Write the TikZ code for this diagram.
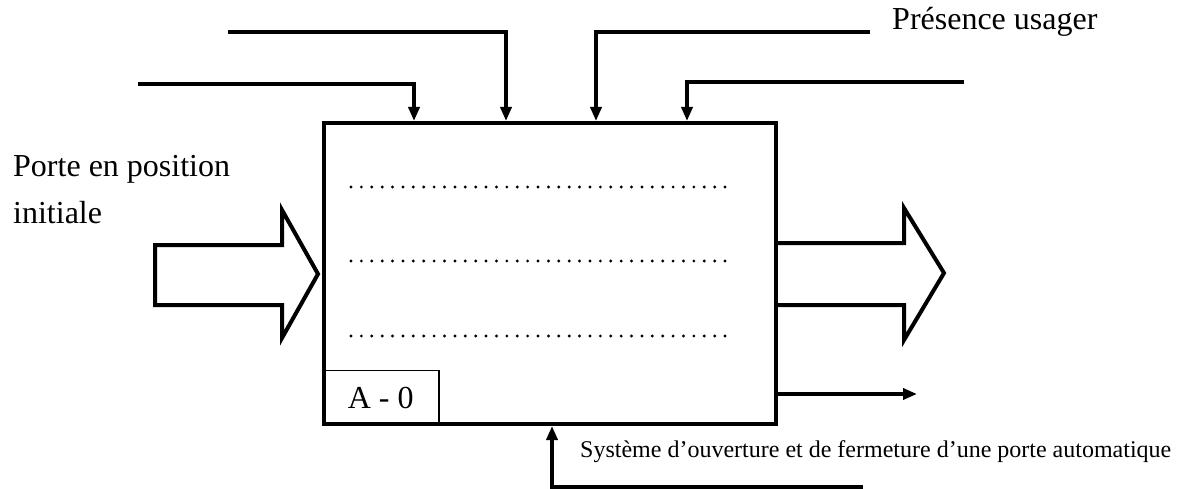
\documentclass[tikz,border=0pt]{standalone}
\usepackage{fontspec}
\setmainfont{Liberation Serif}
\usetikzlibrary{arrows.meta}

\begin{document}
\begin{tikzpicture}[x=1pt,y=-1pt,
  fat/.style={line width=4pt},
  tip/.style={-{Triangle[length=14pt,width=11pt]}},
  big/.style={font=\fontsize{32}{38}\selectfont, inner sep=0pt},
  small/.style={font=\fontsize{24}{28}\selectfont, inner sep=0pt}]
 \useasboundingbox (0,0) rectangle (1182,489);

 % the function box
 \node [draw, fat, minimum width=452pt, minimum height=301pt, inner sep=0pt] (box) at (550,273.5) {};
 \node [draw, line width=1.5pt, anchor=south west, minimum width=116pt, minimum height=55pt, big] (a0) at (box.south west) {A - 0};

 \foreach \y in {187,261,336}
  \foreach \i in {0,...,36}
   \fill (351+\i*10.39,\y) circle (1.6pt);

 % controls on top
 \coordinate (c1) at (138,84);
 \coordinate (c2) at (228,32);
 \coordinate (c3) at (870,32);
 \coordinate (c4) at (964,82);
 \coordinate (t1) at (414,121);
 \coordinate (t2) at (506,121);
 \coordinate (t3) at (596,121);
 \coordinate (t4) at (687,121);
 \draw [fat, tip] (c1) -| (t1);
 \draw [fat, tip] (c2) -| (t2);
 \draw [fat, tip] (c3) -| (t3);
 \draw [fat, tip] (c4) -| (t4);
 \node [big, anchor=base west] (pres) at (892,30) {Présence usager};

 % input
 \draw [fat] (155,245) -- (282,245) -- (282,210) -- (318,274) -- (282,338) -- (282,305) -- (155,305) -- cycle;
 \node [big, anchor=base west] (porte) at (13,177) {Porte en position};
 \node [big, anchor=base west] (init) at (13,223) {initiale};

 % outputs
 \draw [fat] (box.east |- 0,243) -- (904,243) -- (904,208) -- (944,273) -- (904,340) -- (904,305) -- (box.east |- 0,305);
 \coordinate (o1) at (917,394);
 \draw [fat, tip] (box.east |- o1) -- (o1);

 % mechanism
 \coordinate (m1) at (863,487);
 \coordinate (b1) at (552,426);
 \draw [fat, tip] (m1) -| (b1);
 \node [small, anchor=base west] (sys) at (580,457) {Système d’ouverture et de fermeture d’une porte automatique};
\end{tikzpicture}
\end{document}
